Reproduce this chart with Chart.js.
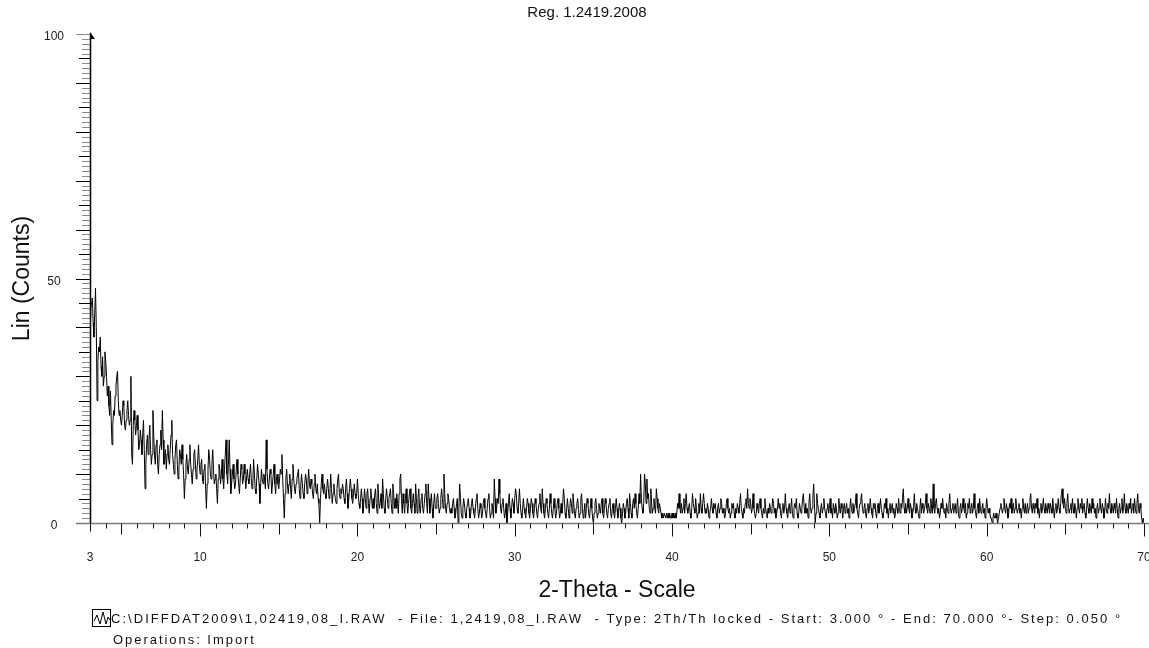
<!DOCTYPE html>
<html>
<head>
<meta charset="utf-8">
<title>Reg. 1.2419.2008</title>
<script src="https://cdn.jsdelivr.net/npm/chart.js@4"></script>
<style>
    html, body { margin: 0; padding: 0; background: #fff; }
    #wrap { width: 1149px; height: 648px; position: relative; }
</style>
</head>
<body>
<div id="wrap"><canvas id="xrdChart" width="1149" height="648"></canvas></div>
<script>
// scan settings (2-theta, degrees)
const scanStart = 3.0;
const scanEnd = 70.0;
const scanStep = 0.05;

// measured counts, one row per degree (20 steps of 0.05)
const counts = [
    42,44,45,46,41,38,43,48,40,25,33,36,35,38,32,30,34,28,30,35, // 3
    33,30,26,28,24,22,27,21,16,20,23,22,26,28,30,31,25,22,23,21, // 4
    20,22,25,24,20,19,21,23,25,22,20,21,30,14,12,20,23,21,18,20, // 5
    22,19,15,16,19,17,14,18,21,15,7,12,16,18,14,17,20,15,12,14,  // 6
    23,18,14,12,16,17,12,10,14,16,19,15,23,17,12,13,15,11,14,16, // 7
    13,12,15,18,21,14,12,10,13,16,17,12,9,11,15,14,12,16,13,10,  // 8
    5,9,12,14,11,10,13,16,12,10,8,11,14,15,12,9,11,13,16,12,     // 9
    10,12,13,9,8,11,12,7,3,8,11,15,13,10,9,12,15,11,8,9,         // 10
    10,7,4,9,12,11,8,10,13,9,7,11,14,17,10,8,12,17,11,6,         // 11
    8,10,12,9,7,8,11,13,10,8,6,9,12,11,8,9,12,10,7,9,            // 12
    11,9,8,10,12,9,7,8,13,10,7,6,9,12,10,8,4,8,11,9,             // 13
    8,10,9,7,17,11,8,7,9,11,10,6,8,10,12,8,6,9,10,8,             // 14
    7,9,11,10,14,9,5,1,6,9,11,8,6,8,10,7,5,9,12,9,               // 15
    7,6,8,9,10,11,7,5,8,10,8,6,5,8,10,9,6,8,11,8,                // 16
    7,9,8,6,5,8,10,7,6,8,5,4,0,5,8,10,7,6,8,6,                   // 17
    5,7,9,7,5,6,10,7,4,6,8,6,5,4,7,9,10,6,5,7,                   // 18
    6,8,7,5,4,7,9,6,3,5,7,9,7,5,4,6,8,6,5,6,                     // 19
    9,6,4,3,5,7,5,2,4,7,5,3,6,7,4,2,5,7,5,3,                     // 20
    5,3,6,7,4,2,8,5,3,4,6,3,9,6,3,2,5,7,5,3,                     // 21
    5,6,7,4,2,8,6,3,5,3,6,4,2,6,9,10,5,2,6,4,                    // 22
    2,5,7,4,2,4,6,7,3,2,4,6,4,2,8,5,2,5,7,3,                     // 23
    2,5,6,3,2,4,6,8,4,2,8,5,2,4,6,3,1,4,6,3,                     // 24
    3,5,6,4,2,3,5,7,5,3,10,6,3,2,4,6,5,3,2,3,                    // 25
    2,4,5,3,1,2,4,5,0,3,8,5,2,1,3,5,4,2,1,3,                     // 26
    4,5,3,1,2,4,5,3,2,1,3,5,6,3,1,2,4,3,1,2,                     // 27
    4,5,3,2,1,3,5,6,3,1,2,4,3,1,9,5,2,3,5,4,                     // 28
    9,6,3,2,4,5,3,1,2,4,0,2,4,6,3,1,3,5,4,2,                     // 29
    5,7,6,3,2,4,7,4,2,1,3,5,3,2,1,3,5,4,2,1,                     // 30
    3,5,4,2,1,3,5,4,2,1,3,4,6,3,2,7,4,2,1,3,                     // 31
    5,4,2,1,3,6,4,2,1,3,5,3,1,2,4,5,3,1,2,4,                     // 32
    2,4,7,5,2,1,3,5,3,1,3,5,4,2,6,4,2,1,3,4,                     // 33
    5,3,1,2,5,6,3,1,2,4,1,3,5,4,2,1,3,5,3,1,                     // 34
    0,2,4,5,3,1,2,4,3,2,4,5,2,1,3,5,4,2,1,3,                     // 35
    4,5,2,1,3,4,2,1,3,5,3,1,2,4,3,1,0,2,4,3,                     // 36
    1,2,4,5,3,1,6,4,2,1,4,5,3,6,4,2,1,3,6,4,                     // 37
    10,5,3,2,4,10,8,4,9,5,6,3,2,7,4,2,3,5,3,2,                   // 38
    7,5,3,2,4,3,2,1,2,1,2,2,1,2,1,2,1,2,1,1,                     // 39
    2,1,2,1,2,1,2,4,3,6,3,2,4,2,3,5,2,4,6,3,                     // 40
    2,3,4,2,1,3,6,4,3,2,5,3,1,2,4,2,6,3,2,4,                     // 41
    6,4,2,3,2,4,3,1,2,3,5,3,2,4,3,4,2,1,3,4,                     // 42
    2,3,5,4,2,3,2,1,2,4,5,3,2,3,1,2,4,3,4,2,                     // 43
    1,3,2,4,3,2,4,6,3,2,1,3,2,4,5,3,7,4,3,5,                     // 44
    4,2,3,6,3,2,1,2,4,3,2,4,5,3,2,1,3,2,5,3,                     // 45
    2,1,3,2,4,3,2,3,5,4,2,3,1,2,3,5,3,4,2,1,                     // 46
    3,4,2,3,6,3,2,1,3,4,2,3,5,2,1,3,4,3,5,2,                     // 47
    1,2,4,3,2,3,5,6,3,2,4,2,3,1,4,6,3,2,3,5,                     // 48
    8,4,0,2,6,4,3,2,1,3,4,2,3,5,3,2,1,3,4,2,                     // 49
    3,5,2,3,1,4,3,2,4,3,1,2,5,3,2,4,3,1,3,4,                     // 50
    2,3,4,2,3,1,3,5,3,2,4,2,3,4,6,3,2,1,3,4,                     // 51
    5,6,3,2,3,4,2,1,3,4,2,3,5,3,2,1,4,3,4,2,                     // 52
    1,3,4,2,3,5,3,2,1,2,4,3,5,2,3,1,3,4,2,3,                     // 53
    4,2,3,1,2,4,3,2,5,3,2,4,3,5,7,3,2,4,2,3,                     // 54
    5,3,2,4,3,1,2,3,6,3,2,4,3,2,1,3,5,2,4,3,                     // 55
    2,3,4,6,3,2,4,3,2,5,3,2,8,3,2,4,5,3,2,3,                     // 56
    1,2,4,3,5,3,2,3,1,4,3,2,4,6,3,2,3,4,2,3,                     // 57
    4,2,3,5,2,1,3,4,2,3,5,3,2,4,1,2,4,3,5,2,                     // 58
    3,4,2,3,6,3,2,1,3,4,2,5,3,2,3,4,2,3,1,3,                     // 59
    5,3,2,3,2,1,1,0,1,2,1,1,2,1,0,1,2,3,4,3,                     // 60
    2,3,5,3,2,4,3,1,2,4,3,5,2,3,4,2,3,5,3,2,                     // 61
    3,4,2,3,1,3,5,3,2,4,2,3,4,2,3,5,6,3,2,4,                     // 62
    3,2,4,3,5,2,3,1,3,4,2,3,5,3,2,4,3,2,4,3,                     // 63
    2,4,3,2,5,3,1,3,4,2,3,5,3,2,4,6,7,4,3,5,                     // 64
    3,2,4,6,3,2,3,4,2,5,3,2,4,3,1,3,5,3,2,4,                     // 65
    3,5,2,3,4,2,1,3,5,3,2,4,3,2,5,3,4,2,3,1,                     // 66
    3,4,2,3,5,3,2,4,3,1,2,5,3,2,4,3,6,3,2,4,                     // 67
    3,2,4,3,2,5,3,1,3,4,2,3,5,2,3,6,3,2,4,3,                     // 68
    2,4,3,5,2,3,4,2,5,3,2,4,6,3,2,4,3,1,0,1,                     // 69
    0                                                            // 70
];

const xTickLabels = [3, 10, 20, 30, 40, 50, 60, 70];
const yTickLabels = [0, 50, 100];

const chartTitle = 'Reg. 1.2419.2008';
const yTitle = 'Lin (Counts)';
const xTitle = '2-Theta - Scale';
const scanInfo = 'C:\\DIFFDAT2009\\1,02419,08_I.RAW  - File: 1,2419,08_I.RAW  - Type: 2Th/Th locked - Start: 3.000 ° - End: 70.000 °- Step: 0.050 °';
const scanOps = 'Operations: Import';

const FONT = '"Liberation Sans", Arial, Helvetica, sans-serif';

const points = counts.map((c, i) => ({ x: +(scanStart + i * scanStep).toFixed(2), y: c }));

// draw text stretched with letter spacing to a given width
function spacedText(ctx, text, x, y, width) {
    ctx.letterSpacing = '0px';
    const w = ctx.measureText(text).width;
    const sp = Math.max(0, (width - w) / text.length);
    ctx.letterSpacing = sp.toFixed(2) + 'px';
    ctx.fillText(text, x, y);
    ctx.letterSpacing = '0px';
}

// axis lines, tick marks, titles and the scan info footer
const decorations = {
    id: 'decorations',
    afterDraw(chart) {
        const ctx = chart.ctx;
        const xs = chart.scales.x;
        const ys = chart.scales.y;
        const area = chart.chartArea;
        ctx.save();

        // y ticks: every count, bigger every 5 and 10
        for (let v = 0; v <= 100; v++) {
            const py = Math.round(ys.getPixelForValue(v)) + 0.5;
            let len = 8, col = '#8a8a8a';
            if (v % 10 === 0) { len = 14; col = (v === 0 || v === 100) ? '#8a8a8a' : '#000'; }
            else if (v % 5 === 0) { len = 11; col = '#000'; }
            ctx.strokeStyle = col;
            ctx.lineWidth = 1;
            ctx.beginPath();
            ctx.moveTo(area.left - len, py);
            ctx.lineTo(area.left, py);
            ctx.stroke();
        }

        // x axis line
        const y0 = Math.round(ys.getPixelForValue(0)) + 0.5;
        ctx.strokeStyle = '#7a7a7a';
        ctx.lineWidth = 1.5;
        ctx.beginPath();
        ctx.moveTo(area.left - 14, y0);
        ctx.lineTo(chart.width, y0);
        ctx.stroke();

        // x ticks: every degree, longer at 5 and 10
        ctx.strokeStyle = '#111';
        ctx.lineWidth = 1;
        for (let d = Math.ceil(scanStart); d <= scanEnd; d++) {
            const px = Math.round(xs.getPixelForValue(d)) + 0.5;
            let len = 5;
            if (d % 10 === 0) len = 13;
            else if (d % 5 === 0) len = 11;
            else if (d === scanStart) len = 8;
            ctx.beginPath();
            ctx.moveTo(px, y0);
            ctx.lineTo(px, y0 + len);
            ctx.stroke();
        }

        // y axis line with a small arrow head
        const ax = Math.round(area.left) + 0.5;
        ctx.strokeStyle = '#000';
        ctx.lineWidth = 1.5;
        ctx.beginPath();
        ctx.moveTo(ax, area.top - 1);
        ctx.lineTo(ax, y0);
        ctx.stroke();
        ctx.fillStyle = '#000';
        ctx.beginPath();
        ctx.moveTo(ax - 0.5, area.top - 2);
        ctx.lineTo(ax + 4.5, area.top + 5);
        ctx.lineTo(ax - 0.5, area.top + 5);
        ctx.closePath();
        ctx.fill();

        // titles
        ctx.fillStyle = '#111';
        ctx.textBaseline = 'middle';
        ctx.textAlign = 'center';
        ctx.font = '15px ' + FONT;
        ctx.fillText(chartTitle, 587, 13);

        ctx.font = '23px ' + FONT;
        ctx.fillText(xTitle, (area.left + area.right) / 2, 591);

        ctx.save();
        ctx.translate(23, (area.top + area.bottom) / 2);
        ctx.rotate(-Math.PI / 2);
        ctx.fillText(yTitle, 0, 0);
        ctx.restore();

        // footer: scan icon and info lines
        ctx.strokeStyle = '#000';
        ctx.lineWidth = 1;
        ctx.strokeRect(92.5, 609.5, 18, 17);
        ctx.beginPath();
        ctx.moveTo(94, 621);
        ctx.lineTo(97, 615);
        ctx.lineTo(100, 624);
        ctx.lineTo(103, 612);
        ctx.lineTo(106, 624);
        ctx.lineTo(108, 617);
        ctx.lineTo(110, 620);
        ctx.stroke();

        ctx.textAlign = 'left';
        ctx.font = '13px ' + FONT;
        spacedText(ctx, scanInfo, 111, 619, 1011);
        spacedText(ctx, scanOps, 113, 640, 143);

        ctx.restore();
    }
};

new Chart(document.getElementById('xrdChart').getContext('2d'), {
    type: 'line',
    data: {
        datasets: [{
            data: points,
            borderColor: '#000',
            borderWidth: 1,
            pointRadius: 0,
            tension: 0,
            fill: false
        }]
    },
    options: {
        responsive: false,
        devicePixelRatio: 1,
        animation: false,
        layout: { padding: { top: 34, right: 5, bottom: 0, left: 0 } },
        plugins: {
            legend: { display: false },
            tooltip: { enabled: false }
        },
        scales: {
            x: {
                type: 'linear',
                min: scanStart,
                max: scanEnd,
                grid: { display: false, drawTicks: false },
                border: { display: false },
                afterBuildTicks: (s) => { s.ticks = xTickLabels.map(v => ({ value: v })); },
                afterFit: (s) => { s.height = 125; s.paddingLeft = 0; s.paddingRight = 0; },
                ticks: {
                    autoSkip: false,
                    maxRotation: 0,
                    padding: 27,
                    color: '#222',
                    font: { size: 12, family: FONT }
                }
            },
            y: {
                min: 0,
                max: 100,
                grid: { display: false, drawTicks: false },
                border: { display: false },
                afterBuildTicks: (s) => { s.ticks = yTickLabels.map(v => ({ value: v })); },
                afterFit: (s) => { s.width = 90; s.paddingTop = 0; s.paddingBottom = 0; },
                ticks: {
                    crossAlign: 'center',
                    padding: 26,
                    labelOffset: 3,
                    color: '#222',
                    font: { size: 12, family: FONT }
                }
            }
        }
    },
    plugins: [decorations]
});
</script>
</body>
</html>
